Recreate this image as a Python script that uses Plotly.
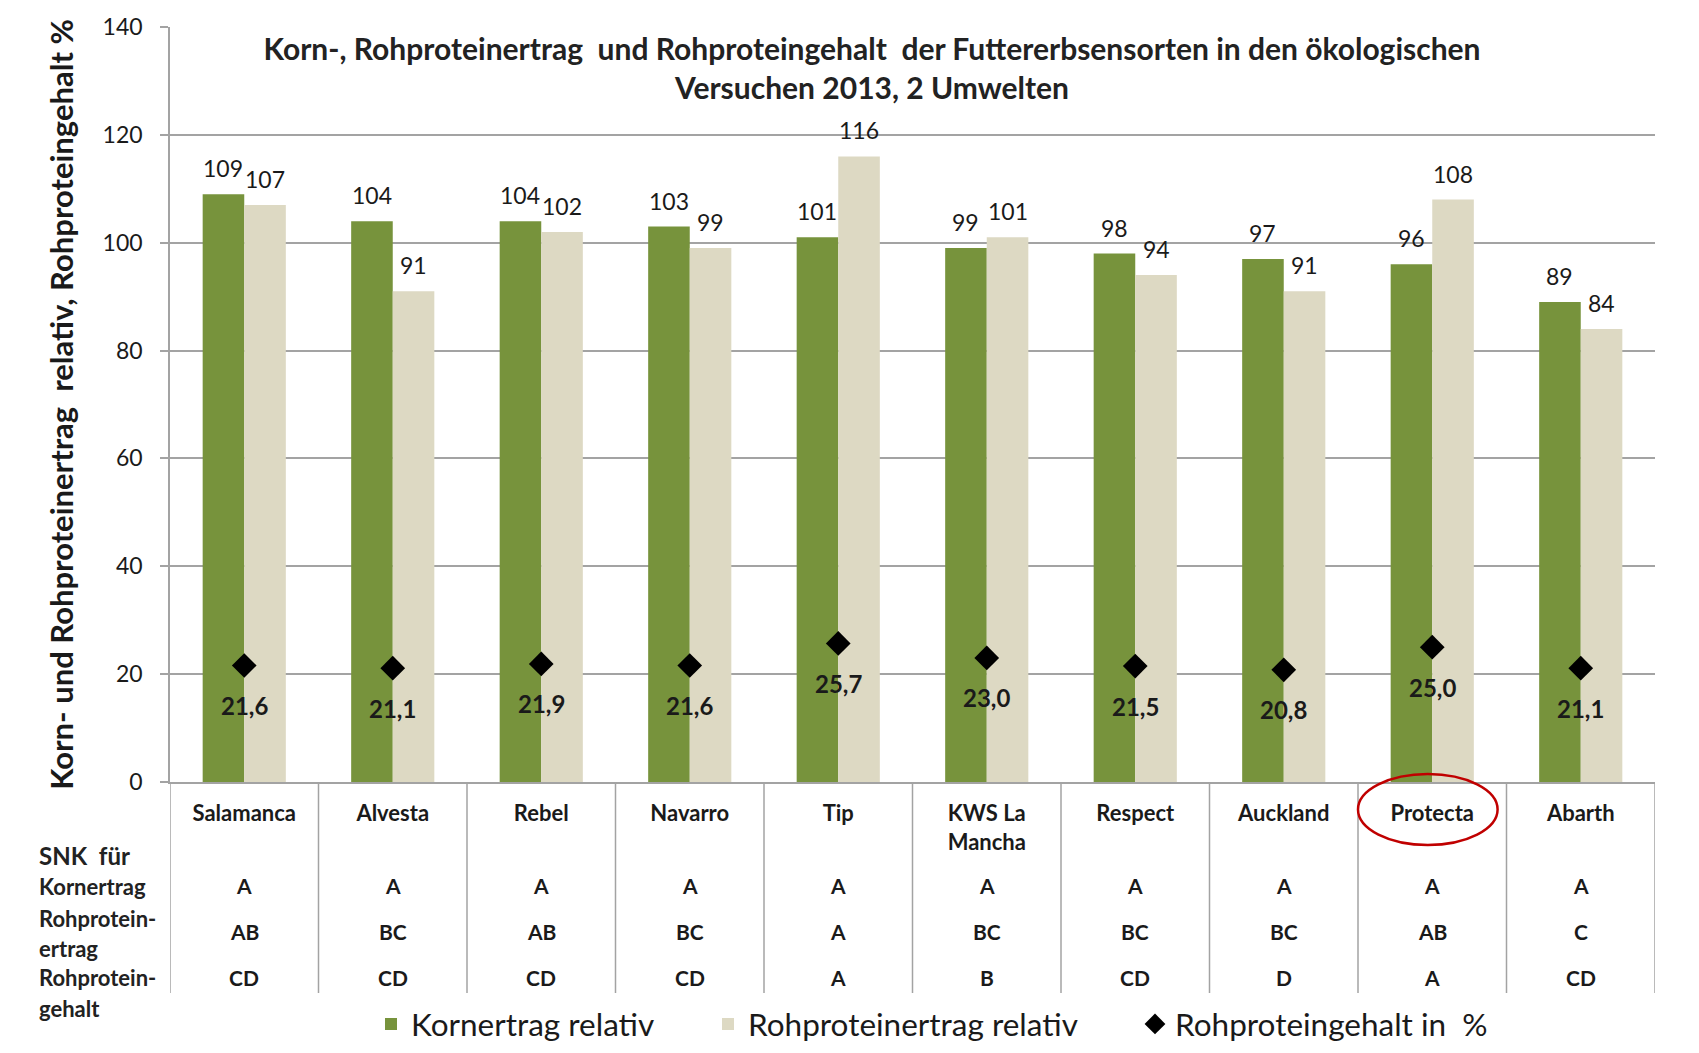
import plotly.graph_objects as go

# ---------------- data ----------------
categories = ["Salamanca", "Alvesta", "Rebel", "Navarro", "Tip",
              "KWS La Mancha", "Respect", "Auckland", "Protecta", "Abarth"]
category_labels = ["Salamanca", "Alvesta", "Rebel", "Navarro", "Tip",
                   "KWS La<br>Mancha", "Respect", "Auckland", "Protecta", "Abarth"]
kornertrag_rel = [109, 104, 104, 103, 101, 99, 98, 97, 96, 89]
rohproteinertrag_rel = [107, 91, 102, 99, 116, 101, 94, 91, 108, 84]
rohproteingehalt = [21.6, 21.1, 21.9, 21.6, 25.7, 23.0, 21.5, 20.8, 25.0, 21.1]

snk_kornertrag = ["A", "A", "A", "A", "A", "A", "A", "A", "A", "A"]
snk_rp_ertrag = ["AB", "BC", "AB", "BC", "A", "BC", "BC", "BC", "AB", "C"]
snk_rp_gehalt = ["CD", "CD", "CD", "CD", "A", "B", "CD", "D", "A", "CD"]
snk_row_labels = ["SNK  für", "Kornertrag", "Rohprotein-", "ertrag", "Rohprotein-", "gehalt"]

y_ticks = [0, 20, 40, 60, 80, 100, 120, 140]
highlighted = "Protecta"

title_text = ("Korn-, Rohproteinertrag  und Rohproteingehalt  der Futtererbsensorten in den ökologischen"
              "<br>Versuchen 2013, 2 Umwelten")
y_title = "Korn- und Rohproteinertrag  relativ, Rohproteingehalt %"

# ---------------- geometry (figure pixels; page adds an 8px body margin) ----------------
W, H = 1683, 1037
ML, MR, MT, MB = 162, 36, 19, 263
PW, PH = W - ML - MR, H - MT - MB
BARGAP = 0.44


def py(pix):  # figure pixel y -> paper y
    return (H - MB - pix) / PH


def px(pix):  # figure pixel x -> paper x
    return (pix - ML) / PW


FONT = "Lato, 'Open Sans', sans-serif"
GREEN = "#77933c"
BEIGE = "#ddd9c3"
GRID = "#a3a3a3"
TXT = "#1a1a1a"

fig = go.Figure()

fig.add_trace(go.Bar(
    name="Kornertrag relativ", x=categories, y=kornertrag_rel,
    marker=dict(color=GREEN, line=dict(width=0)), legend="legend",
))
fig.add_trace(go.Bar(
    name="Rohproteinertrag relativ", x=categories, y=rohproteinertrag_rel,
    marker=dict(color=BEIGE, line=dict(width=0)), legend="legend2",
))
fig.add_trace(go.Scatter(
    name="Rohproteingehalt in  %", x=categories, y=rohproteingehalt,
    mode="markers", marker=dict(symbol="diamond", size=19, color="black"), legend="legend3",
))

annotations = []
half = (1 - BARGAP) / 4  # centre offset of each bar within its group (category units)
# value labels above the bars
for i, (k, r) in enumerate(zip(kornertrag_rel, rohproteinertrag_rel)):
    for xoff, v in ((-half, k), (half, r)):
        annotations.append(dict(
            x=i + xoff, y=v, xref="x", yref="y", text=str(v), showarrow=False,
            yanchor="bottom", yshift=10, font=dict(family=FONT, size=23, color=TXT)))
# value labels under the diamonds
for c, v in zip(categories, rohproteingehalt):
    annotations.append(dict(
        x=c, y=v, xref="x", yref="y", text=f"{v:.1f}".replace(".", ","),
        showarrow=False, yanchor="middle", yshift=-40,
        font=dict(family=FONT, size=24, color=TXT, weight="bold")))

# SNK letter rows
for row, ypix in ((snk_kornertrag, 877), (snk_rp_ertrag, 924), (snk_rp_gehalt, 969)):
    for c, s in zip(categories, row):
        annotations.append(dict(
            x=c, y=py(ypix), xref="x", yref="paper", text=s, showarrow=False,
            yanchor="middle", font=dict(family=FONT, size=21, color=TXT, weight="bold")))

# left side row labels
for lab, ypix, fs in zip(snk_row_labels, [847, 878, 911, 940, 969, 1000], [24, 22, 22, 22, 22, 22]):
    annotations.append(dict(
        x=px(29), y=py(ypix), xref="paper", yref="paper", xanchor="left", yanchor="middle",
        text=lab, showarrow=False,
        font=dict(family=FONT, size=fs, color="#222222", weight="bold")))

shapes = []
# table separators
n = len(categories)
for i in range(n + 1):
    shapes.append(dict(type="line", xref="x", yref="paper",
                       x0=i - 0.5, x1=i - 0.5, y0=0, y1=py(985),
                       line=dict(color=GRID, width=1.5)))
# red highlight ellipse
hi = categories.index(highlighted)
shapes.append(dict(type="circle", xref="x", yref="paper",
                   x0=hi - 0.5, x1=hi + 0.44, y0=py(837), y1=py(766),
                   line=dict(color="#c00000", width=2.5)))

legend_common = dict(orientation="h", xanchor="left", yanchor="middle", y=py(1016),
                     font=dict(family=FONT, size=31.5, color=TXT), bgcolor="rgba(0,0,0,0)",
                     borderwidth=0)

fig.update_layout(
    width=W, height=H,
    margin=dict(l=ML, r=MR, t=MT, b=MB, pad=0, autoexpand=False),
    paper_bgcolor="white", plot_bgcolor="white",
    barmode="group", bargap=BARGAP, bargroupgap=0,
    font=dict(family=FONT, color=TXT),
    title=dict(text=title_text, x=864 / W, xanchor="center", xref="container",
               y=1 - 52 / H, yanchor="middle", yref="container",
               font=dict(family=FONT, size=30, color="#222222", weight="bold")),
    showlegend=True,
    legend=dict(x=px(363), **legend_common),
    legend2=dict(x=px(700), **legend_common),
    legend3=dict(x=px(1127), **legend_common),
    annotations=annotations,
    shapes=shapes,
    hovermode=False,
)

fig.update_yaxes(
    range=[0, 140], tickvals=y_ticks, showgrid=True, gridcolor=GRID, gridwidth=1.5,
    showline=True, linecolor=GRID, linewidth=1.5, ticks="outside", ticklen=8, tickcolor=GRID,
    tickwidth=1.5, zeroline=False, ticklabelstandoff=13,
    tickfont=dict(family=FONT, size=23, color=TXT),
    title=dict(text=y_title, standoff=20, font=dict(family=FONT, size=31, color=TXT, weight="bold")),
)
fig.update_xaxes(
    type="category", tickmode="array", tickvals=categories, ticktext=category_labels,
    showline=True, linecolor=GRID, linewidth=1.5, ticks="", showgrid=False,
    tickfont=dict(family=FONT, size=22, color=TXT, weight="bold"), ticklabelstandoff=11,
    range=[-0.5, n - 0.5],
)

fig.write_html("out.html")
